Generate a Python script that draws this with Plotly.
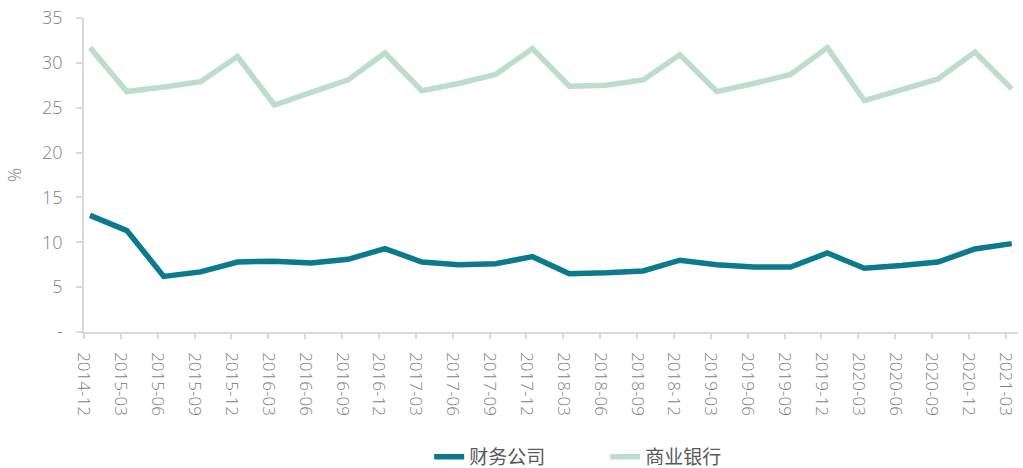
import plotly.graph_objects as go

periods = ["2014-12", "2015-03", "2015-06", "2015-09", "2015-12", "2016-03", "2016-06",
           "2016-09", "2016-12", "2017-03", "2017-06", "2017-09", "2017-12", "2018-03",
           "2018-06", "2018-09", "2018-12", "2019-03", "2019-06", "2019-09", "2019-12",
           "2020-03", "2020-06", "2020-09", "2020-12", "2021-03"]

finance_co = [13.0, 11.3, 6.2, 6.7, 7.8, 7.9, 7.7, 8.1, 9.3, 7.8, 7.5, 7.6, 8.4,
              6.5, 6.6, 6.8, 8.0, 7.5, 7.25, 7.25, 8.8, 7.1, 7.4, 7.8, 9.25, 9.85]
comm_bank = [31.7, 26.8, 27.3, 27.9, 30.7, 25.3, 26.7, 28.1, 31.1, 26.9, 27.7, 28.7, 31.6,
             27.4, 27.5, 28.1, 30.9, 26.8, 27.7, 28.7, 31.7, 25.8, 27.0, 28.2, 31.2, 27.1]

y_ticks = [0, 5, 10, 15, 20, 25, 30, 35]
y_ticktext = ["-", "5", "10", "15", "20", "25", "30", "35"]

idx = list(range(len(periods)))
# excel draws the category ticks a touch left of the points
tick_pos = [i - 0.163 for i in idx]

fig = go.Figure()
fig.add_trace(go.Scatter(x=idx, y=finance_co, name="财务公司", mode="lines",
                         line=dict(color="#0B7A8C", width=5.5)))
fig.add_trace(go.Scatter(x=idx, y=comm_bank, name="商业银行", mode="lines",
                         line=dict(color="#BEDCCB", width=5.5)))

grey = "#7F7F7F"
num_font = "Open Sans, Noto Sans, sans-serif"
fig.update_layout(
    width=1023, height=468,
    margin=dict(l=84, r=5, t=18, b=136, autoexpand=False),
    plot_bgcolor="white", paper_bgcolor="white",
    font=dict(family="Noto Sans CJK SC, Noto Sans, sans-serif", color=grey, size=17),
    showlegend=True,
    legend=dict(orientation="h", x=0.558, xanchor="center", y=-0.398, yanchor="middle",
                font=dict(size=19, color="#595959"), entrywidth=131, tracegroupgap=0),
)
fig.update_xaxes(
    range=[-0.163, 25.17], tickvals=tick_pos, ticktext=periods, tickangle=90,
    showline=True, linecolor="#D9D9D9", linewidth=1.5, showgrid=False, zeroline=False,
    ticks="outside", ticklen=5, tickcolor="#D9D9D9", tickwidth=1.5, automargin=False,
    tickfont=dict(family=num_font, size=17, color=grey, weight=300), ticklabelstandoff=10,
    ticklabeloverflow="allow",
)
fig.update_yaxes(
    range=[0, 35], tickvals=y_ticks, ticktext=y_ticktext, automargin=False,
    showline=True, linecolor="#D9D9D9", linewidth=1.5, showgrid=False, zeroline=False,
    ticks="outside", ticklen=6, tickcolor="#D9D9D9", tickwidth=1.5,
    tickfont=dict(family=num_font, size=18, color=grey, weight=300), ticklabelstandoff=10,
    ticklabeloverflow="allow",
    title=dict(text="%", font=dict(family=num_font, size=18, color=grey, weight=300), standoff=16),
)

# drop the default 8px body margin so the figure fills the window
fig.write_html("out.html", config={"displayModeBar": False},
               post_script="document.body.style.margin = '0';")
